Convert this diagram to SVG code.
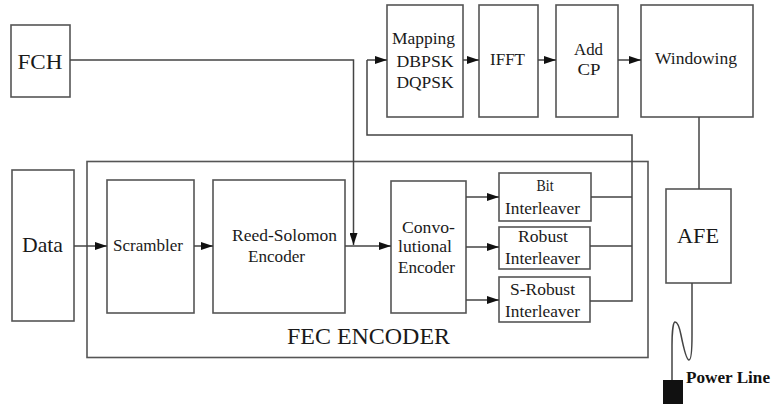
<svg xmlns="http://www.w3.org/2000/svg" width="772" height="404" viewBox="0 0 772 404">
<defs>
<style>
.box{fill:#fff;stroke:#555;stroke-width:1.6}
.ln{fill:none;stroke:#444;stroke-width:1.5}
</style>
<marker id="ah" viewBox="0 0 12 8" refX="12" refY="4" markerWidth="12" markerHeight="8" markerUnits="userSpaceOnUse" orient="auto">
<path d="M0,0 L12,4 L0,8 Z" fill="#111"/>
</marker>
</defs>
<rect width="772" height="404" fill="#fff"/>

<g id="fec-encoder">
<rect class="box" x="87" y="161.5" width="561" height="196"/>
<text x="287" y="344" style="font-family:'Liberation Serif','Noto Serif','Nimbus Roman','FreeSerif','DejaVu Serif',serif;font-size:24px;fill:#1a1a1a" textLength="163" lengthAdjust="spacingAndGlyphs">FEC ENCODER</text>
</g>

<g id="fch">
<rect class="box" x="11" y="25" width="59" height="72"/>
<text x="17.5" y="69" style="font-family:'Liberation Serif','Noto Serif','Nimbus Roman','FreeSerif','DejaVu Serif',serif;font-size:22px;fill:#1a1a1a" textLength="45" lengthAdjust="spacingAndGlyphs">FCH</text>
</g>
<g id="data">
<rect class="box" x="12" y="170" width="62" height="151"/>
<text x="22" y="252" style="font-family:'Liberation Serif','Noto Serif','Nimbus Roman','FreeSerif','DejaVu Serif',serif;font-size:22px;fill:#1a1a1a" textLength="41" lengthAdjust="spacingAndGlyphs">Data</text>
</g>
<g id="scrambler">
<rect class="box" x="107" y="180" width="87" height="133"/>
<text x="113" y="251" style="font-family:'Liberation Serif','Noto Serif','Nimbus Roman','FreeSerif','DejaVu Serif',serif;font-size:17px;fill:#1a1a1a" textLength="70" lengthAdjust="spacingAndGlyphs">Scrambler</text>
</g>
<g id="reed-solomon">
<rect class="box" x="213" y="180" width="132" height="133"/>
<text x="232" y="241" style="font-family:'Liberation Serif','Noto Serif','Nimbus Roman','FreeSerif','DejaVu Serif',serif;font-size:17px;fill:#1a1a1a" textLength="105" lengthAdjust="spacingAndGlyphs">Reed-Solomon</text>
<text x="248" y="262" style="font-family:'Liberation Serif','Noto Serif','Nimbus Roman','FreeSerif','DejaVu Serif',serif;font-size:17px;fill:#1a1a1a" textLength="57" lengthAdjust="spacingAndGlyphs">Encoder</text>
</g>
<g id="conv-encoder">
<rect class="box" x="391" y="181" width="75" height="132"/>
<text x="402" y="233" style="font-family:'Liberation Serif','Noto Serif','Nimbus Roman','FreeSerif','DejaVu Serif',serif;font-size:17px;fill:#1a1a1a" textLength="53" lengthAdjust="spacingAndGlyphs">Convo-</text>
<text x="398" y="252" style="font-family:'Liberation Serif','Noto Serif','Nimbus Roman','FreeSerif','DejaVu Serif',serif;font-size:17px;fill:#1a1a1a" textLength="54" lengthAdjust="spacingAndGlyphs">lutional</text>
<text x="398" y="273" style="font-family:'Liberation Serif','Noto Serif','Nimbus Roman','FreeSerif','DejaVu Serif',serif;font-size:17px;fill:#1a1a1a" textLength="57" lengthAdjust="spacingAndGlyphs">Encoder</text>
</g>
<g id="bit-interleaver">
<rect class="box" x="499" y="173" width="92" height="48"/>
<text x="536.5" y="191" style="font-family:'Liberation Serif','Noto Serif','Nimbus Roman','FreeSerif','DejaVu Serif',serif;font-size:17px;fill:#1a1a1a" textLength="17" lengthAdjust="spacingAndGlyphs">Bit</text>
<text x="505" y="214" style="font-family:'Liberation Serif','Noto Serif','Nimbus Roman','FreeSerif','DejaVu Serif',serif;font-size:17px;fill:#1a1a1a" textLength="75" lengthAdjust="spacingAndGlyphs">Interleaver</text>
</g>
<g id="robust-interleaver">
<rect class="box" x="499" y="227" width="91" height="42"/>
<text x="518" y="242" style="font-family:'Liberation Serif','Noto Serif','Nimbus Roman','FreeSerif','DejaVu Serif',serif;font-size:17px;fill:#1a1a1a" textLength="50" lengthAdjust="spacingAndGlyphs">Robust</text>
<text x="505" y="264" style="font-family:'Liberation Serif','Noto Serif','Nimbus Roman','FreeSerif','DejaVu Serif',serif;font-size:17px;fill:#1a1a1a" textLength="75" lengthAdjust="spacingAndGlyphs">Interleaver</text>
</g>
<g id="s-robust-interleaver">
<rect class="box" x="499" y="277" width="91" height="45"/>
<text x="510" y="295" style="font-family:'Liberation Serif','Noto Serif','Nimbus Roman','FreeSerif','DejaVu Serif',serif;font-size:17px;fill:#1a1a1a" textLength="65" lengthAdjust="spacingAndGlyphs">S-Robust</text>
<text x="505" y="317" style="font-family:'Liberation Serif','Noto Serif','Nimbus Roman','FreeSerif','DejaVu Serif',serif;font-size:17px;fill:#1a1a1a" textLength="75" lengthAdjust="spacingAndGlyphs">Interleaver</text>
</g>
<g id="mapping">
<rect class="box" x="387" y="5" width="76" height="112"/>
<text x="392" y="44" style="font-family:'Liberation Serif','Noto Serif','Nimbus Roman','FreeSerif','DejaVu Serif',serif;font-size:17px;fill:#1a1a1a" textLength="63" lengthAdjust="spacingAndGlyphs">Mapping</text>
<text x="396.5" y="67" style="font-family:'Liberation Serif','Noto Serif','Nimbus Roman','FreeSerif','DejaVu Serif',serif;font-size:17px;fill:#1a1a1a" textLength="57" lengthAdjust="spacingAndGlyphs">DBPSK</text>
<text x="396.5" y="88" style="font-family:'Liberation Serif','Noto Serif','Nimbus Roman','FreeSerif','DejaVu Serif',serif;font-size:17px;fill:#1a1a1a" textLength="57" lengthAdjust="spacingAndGlyphs">DQPSK</text>
</g>
<g id="ifft">
<rect class="box" x="479" y="5" width="59" height="112"/>
<text x="490" y="65" style="font-family:'Liberation Serif','Noto Serif','Nimbus Roman','FreeSerif','DejaVu Serif',serif;font-size:17px;fill:#1a1a1a" textLength="35" lengthAdjust="spacingAndGlyphs">IFFT</text>
</g>
<g id="add-cp">
<rect class="box" x="556" y="5" width="62" height="112"/>
<text x="574" y="55" style="font-family:'Liberation Serif','Noto Serif','Nimbus Roman','FreeSerif','DejaVu Serif',serif;font-size:17px;fill:#1a1a1a" textLength="29" lengthAdjust="spacingAndGlyphs">Add</text>
<text x="577.5" y="75" style="font-family:'Liberation Serif','Noto Serif','Nimbus Roman','FreeSerif','DejaVu Serif',serif;font-size:17px;fill:#1a1a1a" textLength="23" lengthAdjust="spacingAndGlyphs">CP</text>
</g>
<g id="windowing">
<rect class="box" x="641" y="5" width="112" height="112"/>
<text x="655" y="64" style="font-family:'Liberation Serif','Noto Serif','Nimbus Roman','FreeSerif','DejaVu Serif',serif;font-size:17px;fill:#1a1a1a" textLength="82" lengthAdjust="spacingAndGlyphs">Windowing</text>
</g>
<g id="afe">
<rect class="box" x="666" y="189" width="65" height="94"/>
<text x="677" y="243" style="font-family:'Liberation Serif','Noto Serif','Nimbus Roman','FreeSerif','DejaVu Serif',serif;font-size:22px;fill:#1a1a1a" textLength="42" lengthAdjust="spacingAndGlyphs">AFE</text>
</g>
<g id="power-line">
<rect x="663" y="380" width="20" height="24" fill="#111"/>
<text x="686" y="383" style="font-family:'Liberation Serif','Times New Roman',serif;font-size:17px;font-weight:bold;fill:#111" textLength="84" lengthAdjust="spacingAndGlyphs">Power Line</text>
</g>

<g id="connectors">
<path class="ln" d="M70,60 H353.5 V245" marker-end="url(#ah)"/>
<path class="ln" d="M74,246 H107" marker-end="url(#ah)"/>
<path class="ln" d="M194,246 H213" marker-end="url(#ah)"/>
<path class="ln" d="M345,246 H391" marker-end="url(#ah)"/>
<path class="ln" d="M466,197 H499" marker-end="url(#ah)"/>
<path class="ln" d="M466,247 H499" marker-end="url(#ah)"/>
<path class="ln" d="M466,300 H499" marker-end="url(#ah)"/>
<path class="ln" d="M591,197 H632 M590,246 H632 M590,301 H632 V135 H367 V60"/>
<path class="ln" d="M367,60 H387" marker-end="url(#ah)"/>
<path class="ln" d="M463,60 H479" marker-end="url(#ah)"/>
<path class="ln" d="M538,60 H556" marker-end="url(#ah)"/>
<path class="ln" d="M618,60 H641" marker-end="url(#ah)"/>
<path class="ln" d="M699,117 V189"/>
<path class="ln" d="M692,283 L692,335 C692,350 691,360 689,360 C686,360 683,345 681,335 C679,325 677,322 675,322 C673,322 672,335 672,345 L672,380"/>
</g>
</svg>
